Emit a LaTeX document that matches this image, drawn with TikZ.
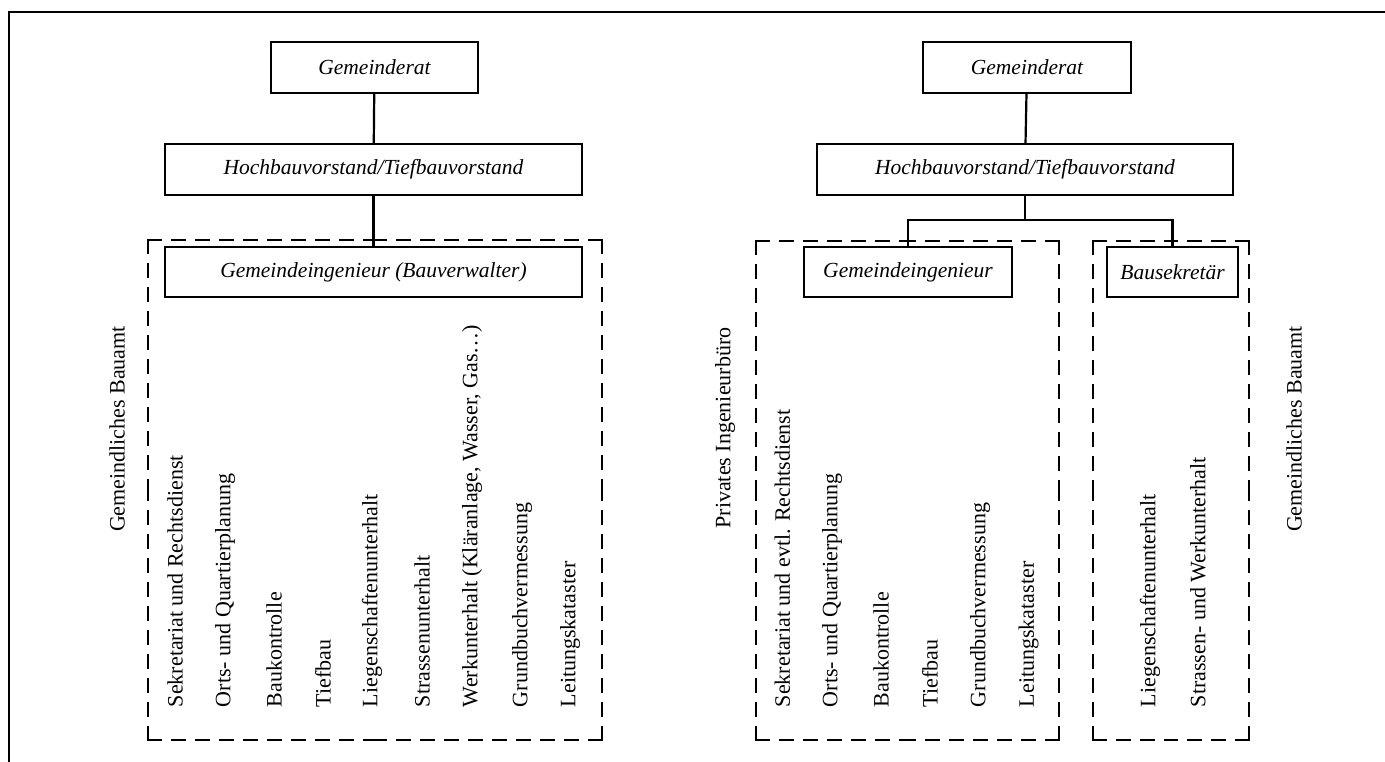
\documentclass[tikz,border=0pt]{standalone}
\usepackage{fontspec}
\setmainfont{Liberation Serif}
\newcommand\dframeof[1]{%
  \draw[dframe] (#1.north west) -- (#1.north);
  \draw[dframe] (#1.north west) -- (#1.west);
  \draw[dframe] (#1.north east) -- (#1.north);
  \draw[dframe] (#1.north east) -- (#1.east);
  \draw[dframe] (#1.south west) -- (#1.south);
  \draw[dframe] (#1.south west) -- (#1.west);
  \draw[dframe] (#1.south east) -- (#1.south);
  \draw[dframe] (#1.south east) -- (#1.east);}
\begin{document}
\begin{tikzpicture}[x=1pt,y=-1pt,
  every node/.style={inner sep=0pt, outer sep=0pt},
  orgbox/.style={draw, line width=1.6pt, rectangle, font=\fontsize{21.5}{25}\selectfont\itshape},
  groupframe/.style={rectangle},
  dframe/.style={line width=2pt, line cap=rect, dash pattern=on 13pt off 11pt},
  link/.style={line width=2.2pt},
  vlabel/.style={rotate=90, anchor=west, font=\fontsize{22}{26}\selectfont},
  sidelabel/.style={rotate=90, font=\fontsize{22}{26}\selectfont}]
\useasboundingbox (0,0) rectangle (1385,762);
\draw[line width=2.6pt] (9,762) -- (9,12) -- (1385,12);

% ---------- left chart ----------
\node[orgbox, minimum width=207pt, minimum height=51pt] (lg) at (374.5,67.5) {Gemeinderat};
\node[orgbox, minimum width=417pt, minimum height=51pt] (lh) at (373.5,169.5) {Hochbauvorstand/Tiefbauvorstand};
\node[groupframe, minimum width=454pt, minimum height=500pt] (lf) at (375,490) {};
\dframeof{lf}
\node[orgbox, fill=white, minimum width=417pt, minimum height=50pt] (li) at (373.5,272) {Gemeindeingenieur (Bauverwalter)};
\draw[link] (lg) -- (lh);
\draw[link] (lh) -- (li);

\node[sidelabel] (lbau) at (117,429) {Gemeindliches Bauamt};
\node[vlabel] (l1) at (175,707) {Sekretariat und Rechtsdienst};
\node[vlabel] (l2) at (225,707) {Orts- und Quartierplanung};
\node[vlabel] (l3) at (274,707) {Baukontrolle};
\node[vlabel] (l4) at (323,707) {Tiefbau};
\node[vlabel] (l5) at (372,707) {Liegenschaftenunterhalt};
\node[vlabel] (l6) at (422,707) {Strassenunterhalt};
\node[vlabel] (l7) at (472,707) {Werkunterhalt (Kläranlage, Wasser, Gas\ldots)};
\node[vlabel] (l8) at (522,707) {Grundbuchvermessung};
\node[vlabel] (l9) at (570,707) {Leitungskataster};

% ---------- right chart ----------
\node[orgbox, minimum width=208pt, minimum height=51pt] (rg) at (1027,67.5) {Gemeinderat};
\node[orgbox, minimum width=416pt, minimum height=51pt] (rh) at (1025,169.5) {Hochbauvorstand/Tiefbauvorstand};
\node[groupframe, minimum width=303pt, minimum height=499pt] (rf1) at (907.5,490.5) {};
\node[groupframe, minimum width=156pt, minimum height=499pt] (rf2) at (1171,490.5) {};
\dframeof{rf1}
\dframeof{rf2}
\node[orgbox, fill=white, minimum width=208pt, minimum height=50pt] (ri) at (908,272) {Gemeindeingenieur};
\node[orgbox, fill=white, minimum width=131pt, minimum height=50pt] (rb) at (1172.5,272) {Bausekretär};
\coordinate (rj) at (1025,220);
\draw[link] (rg) -- (rh);
\draw[link] (rh) -- (rj);
\draw[link] (ri.north) |- (rj);
\draw[link] (rj) -| (rb.north);

\node[sidelabel] (rpriv) at (725,428) {Privates Ingenieurbüro};
\node[vlabel] (r1) at (782.5,707) {Sekretariat und evtl. Rechtsdienst};
\node[vlabel] (r2) at (832,707) {Orts- und Quartierplanung};
\node[vlabel] (r3) at (881,707) {Baukontrolle};
\node[vlabel] (r4) at (930,707) {Tiefbau};
\node[vlabel] (r5) at (980,707) {Grundbuchvermessung};
\node[vlabel] (r6) at (1028.5,707) {Leitungskataster};
\node[vlabel] (r7) at (1150,707) {Liegenschaftenunterhalt};
\node[vlabel] (r8) at (1198,707) {Strassen- und Werkunterhalt};
\node[sidelabel] (rbau) at (1294,429) {Gemeindliches Bauamt};
\end{tikzpicture}
\end{document}
